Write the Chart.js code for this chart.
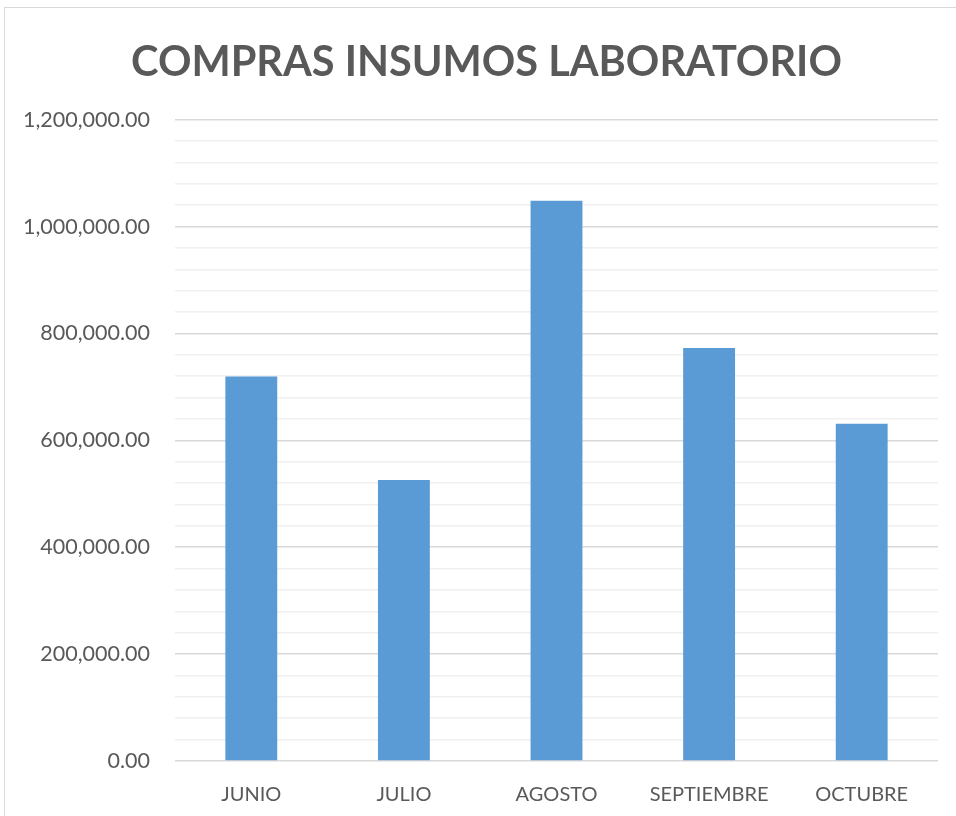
<!DOCTYPE html>
<html><head><meta charset="utf-8">
<script src="https://cdn.jsdelivr.net/npm/chart.js@4/dist/chart.umd.min.js"></script>
<style>
html,body{margin:0;padding:0;background:#fff;overflow:hidden;}
#frame{position:absolute;left:4px;top:7px;width:1000px;height:900px;border-top:1.5px solid #d9d9d9;border-left:1.5px solid #d9d9d9;}
#wrap{position:absolute;left:0;top:0;width:956px;height:816px;}
</style></head>
<body>
<div id="frame"></div>
<div id="wrap"><canvas id="c" width="956" height="816"></canvas></div>
<script>
const categories = ["JUNIO", "JULIO", "AGOSTO", "SEPTIEMBRE", "OCTUBRE"];
const compras = [719500, 526000, 1048500, 773000, 631000];
const chartTitle = "COMPRAS INSUMOS LABORATORIO";
const yMax = 1200000;
const yMinorStep = 40000;
const yMajorStep = 200000;

const fmt = v => v.toLocaleString('en-US', {minimumFractionDigits: 2, maximumFractionDigits: 2});

const shiftTitle = {
  id: 'shiftTitle',
  afterLayout(chart) {
    if (chart.titleBlock) chart.titleBlock.left = 35;
  }
};

new Chart(document.getElementById('c'), {
  type: 'bar',
  data: {
    labels: categories,
    datasets: [{
      data: compras,
      backgroundColor: '#5B9BD5',
      borderWidth: 0,
      barPercentage: 0.34,
      categoryPercentage: 1
    }]
  },
  plugins: [shiftTitle],
  options: {
    responsive: false,
    animation: false,
    devicePixelRatio: 1,
    layout: { padding: { left: 0, right: 18, top: 0, bottom: 0 } },
    plugins: {
      legend: { display: false },
      tooltip: { enabled: false },
      title: {
        display: true,
        text: chartTitle,
        color: '#595959',
        font: { family: 'Lato', size: 41.5, weight: 'bold', lineHeight: 1.27 },
        padding: { top: 36, bottom: 31 }
      }
    },
    scales: {
      x: {
        grid: { display: false, drawTicks: false },
        border: { display: false },
        ticks: { color: '#595959', font: { family: 'Lato', size: 20 }, padding: 22 },
        afterFit: s => { s.height = 55; }
      },
      y: {
        min: 0, max: yMax,
        afterBuildTicks: s => {
          const t = [];
          for (let v = 0; v <= yMax; v += yMinorStep) t.push({ value: v });
          s.ticks = t;
        },
        grid: {
          drawTicks: false,
          lineWidth: 1.5,
          color: ctx => (ctx.tick && ctx.tick.value % yMajorStep === 0) ? '#d9d9d9' : '#f0f0f0'
        },
        border: { display: false },
        ticks: {
          color: '#595959',
          font: { family: 'Lato', size: 21.5 },
          padding: 25,
          autoSkip: false,
          callback: v => (v % yMajorStep === 0) ? fmt(v) : ''
        },
        afterFit: s => { s.width = 175; }
      }
    }
  }
});
</script>
</body></html>
